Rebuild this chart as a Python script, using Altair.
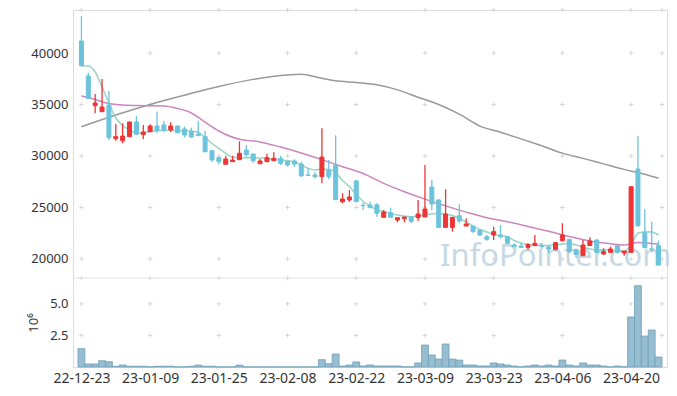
import altair as alt
import pandas as pd

dates = ["22-12-23", "22-12-26", "22-12-27", "22-12-28", "22-12-29",
         "23-01-02", "23-01-03", "23-01-04", "23-01-05", "23-01-06",
         "23-01-09", "23-01-10", "23-01-11", "23-01-12", "23-01-13",
         "23-01-16", "23-01-17", "23-01-18", "23-01-19", "23-01-20",
         "23-01-25", "23-01-26", "23-01-27", "23-01-30", "23-01-31",
         "23-02-01", "23-02-02", "23-02-03", "23-02-06", "23-02-07",
         "23-02-08", "23-02-09", "23-02-10", "23-02-13", "23-02-14",
         "23-02-15", "23-02-16", "23-02-17", "23-02-20", "23-02-21",
         "23-02-22", "23-02-23", "23-02-24", "23-02-27", "23-02-28",
         "23-03-02", "23-03-03", "23-03-06", "23-03-07", "23-03-08",
         "23-03-09", "23-03-10", "23-03-13", "23-03-14", "23-03-15",
         "23-03-16", "23-03-17", "23-03-20", "23-03-21", "23-03-22",
         "23-03-23", "23-03-24", "23-03-27", "23-03-28", "23-03-29",
         "23-03-30", "23-03-31", "23-04-03", "23-04-04", "23-04-05",
         "23-04-06", "23-04-07", "23-04-10", "23-04-11", "23-04-12",
         "23-04-13", "23-04-14", "23-04-17", "23-04-18", "23-04-19",
         "23-04-20", "23-04-21", "23-04-24", "23-04-25", "23-04-26"]

open_ = [41165, 37767, 34885, 34300, 34950, 31680, 31485, 31875, 33300, 32070,
         32360, 32910, 33010, 32525, 32910, 32620, 32360, 32110, 31875, 30515,
         29835, 29195, 29450, 29640, 30580, 30195, 29250, 29445, 29545, 29775,
         29445, 29515, 29220, 28160, 28160, 27990, 28610, 29125, 25560, 25730,
         27570, 25215, 25240, 25270, 24050, 24495, 23785, 23910, 24080, 24010,
         24080, 26990, 25730, 23075, 23075, 24210, 23200, 23200, 22815, 22165,
         22330, 22330, 22165, 21360, 21265, 21135, 21300, 21265, 21170, 20940,
         21780, 21910, 20940, 20320, 21300, 21845, 20485, 20645, 21300, 20580,
         20645, 28740, 22555, 20970, 21300]
high = [43590, 38090, 36020, 37475, 36310, 33110, 33175, 33350, 33880, 33010,
        33080, 34300, 33430, 33270, 32960, 32850, 32750, 33430, 32455, 30515,
        29930, 30000, 30030, 31425, 31070, 30195, 29710, 30225, 30360, 30000,
        29545, 29680, 29445, 28805, 28415, 32690, 29610, 32010, 26380, 26700,
        27670, 25470, 25560, 25410, 24755, 24980, 24010, 24080, 24080, 25730,
        29125, 27670, 25800, 26770, 24050, 25310, 23950, 23200, 22815, 22330,
        23135, 23300, 22230, 21525, 21525, 21525, 22330, 21555, 21360, 21650,
        23465, 21910, 20940, 21845, 22110, 21910, 21035, 21200, 21360, 20775,
        27050, 31940, 24855, 23620, 21780]
low = [38700, 35550, 34145, 34300, 31550, 31485, 31233, 31850, 32040, 31620,
       32300, 32260, 32330, 32330, 32210, 31815, 31780, 31950, 30360, 29445,
       29195, 29195, 29450, 29640, 29930, 29350, 29250, 29445, 29545, 29125,
       28960, 28960, 27990, 28060, 27835, 27350, 27740, 25760, 25410, 25560,
       25560, 24755, 24980, 24110, 24050, 24050, 23560, 23560, 23465, 23690,
       24080, 24755, 23000, 23075, 22650, 23465, 23200, 22555, 22230, 21775,
       21845, 22010, 21525, 21135, 21070, 20875, 21300, 20970, 20590, 20810,
       21680, 20550, 20130, 20320, 21300, 20550, 20390, 20645, 20550, 20320,
       20600, 23135, 21100, 20645, 19420]
close = [38767, 35600, 35145, 34757, 31777, 31875, 31940, 33300, 32110, 32330,
         32910, 32455, 32525, 32910, 32260, 32040, 31845, 31975, 30415, 29610,
         29445, 29710, 29610, 30260, 30125, 29545, 29515, 29835, 29775, 29290,
         29125, 29220, 28060, 28110, 27990, 29900, 27990, 25760, 25825, 26020,
         25560, 25180, 24980, 24440, 24560, 24050, 24010, 24080, 23655, 24370,
         24855, 25340, 23060, 24370, 24050, 23690, 23400, 22650, 22330, 21910,
         22650, 22165, 21525, 21200, 21135, 21395, 21525, 21230, 20970, 21585,
         22330, 20710, 20455, 21360, 21750, 20645, 20710, 20970, 20645, 20775,
         27020, 23230, 21100, 20940, 19420]
volume_m = [1.45, 0.24, 0.24, 0.50, 0.42, 0.05, 0.16, 0.06, 0.06, 0.06,
            0.01, 0.06, 0.06, 0.06, 0.01, 0.01, 0.06, 0.15, 0.06, 0.06,
            0.01, 0.01, 0.01, 0.15, 0.01, 0.01, 0.01, 0.01, 0.01, 0.01,
            0.01, 0.01, 0.01, 0.01, 0.01, 0.58, 0.26, 1.03, 0.08, 0.16,
            0.40, 0.08, 0.16, 0.08, 0.08, 0.08, 0.08, 0.01, 0.01, 0.32,
            1.74, 0.95, 0.63, 1.82, 0.63, 0.55, 0.16, 0.16, 0.08, 0.08,
            0.32, 0.24, 0.16, 0.08, 0.01, 0.08, 0.16, 0.08, 0.16, 0.08,
            0.55, 0.16, 0.08, 0.32, 0.16, 0.16, 0.08, 0.01, 0.08, 0.01,
            3.96, 6.44, 2.45, 2.93, 0.79]
ma5 = [38767, 38738, 38155, 36700, 35145, 33690, 32960, 32525, 32230, 32260,
       32380, 32455, 32495, 32495, 32475, 32450, 32430, 32300, 31795, 31215,
       30750, 30245, 29875, 29835, 29835, 29835, 29805, 29775, 29660, 29610,
       29560, 29415, 29125, 28805, 28640, 28740, 28690, 28400, 27620, 27040,
       26260, 25580, 25145, 24755, 24610, 24440, 24270, 24175, 24110, 24200,
       24270, 24400, 24420, 24340, 24225, 23930, 23590, 23200, 22865, 22620,
       22380, 22280, 22135, 21795, 21550, 21405, 21360, 21310, 21310, 21380,
       21455, 21505, 21360, 21165, 20970, 20875, 20875, 20875, 20775, 20730,
       21405, 22495, 22650, 22620, 22330]
ma20_idx = [0, 2, 4, 6, 9, 12, 14, 16, 18, 20, 23, 26, 29, 32, 35, 38, 41, 44,
            47, 50, 53, 56, 59, 62, 65, 68, 71, 74, 77, 79, 81, 84]
ma20 = [35825, 35490, 35090, 34945, 34885, 34860, 34610, 34175, 33280, 32430,
        31620, 31370, 30870, 30300, 29650, 28960, 28300, 27340, 26535, 25815,
        25160, 24550, 24000, 23625, 23155, 22690, 22180, 21740, 21475, 21365,
        21610, 21455]
ma60_idx = [0, 5, 10, 15, 20, 25, 30, 32, 34, 37, 40, 43, 46, 49, 52, 55, 58,
            61, 64, 67, 70, 73, 76, 79, 82, 84]
ma60 = [32845, 33980, 35000, 35900, 36750, 37440, 37870, 37930, 37690, 37300,
        37130, 36910, 36420, 35710, 34995, 34060, 32900, 32300, 31660, 30990,
        30280, 29770, 29235, 28700, 28230, 27835]

price_ticks = [20000, 25000, 30000, 35000, 40000]
vol_ticks = [2.5, 5.0]
label_idx = list(range(0, len(dates), 10))

n = len(dates)
df = pd.DataFrame({"i": list(range(n)), "date": dates, "open": open_, "high": high,
                   "low": low, "close": close, "vol": volume_m, "ma5": ma5})
df["dir"] = ["up" if c >= o else "down" for o, c in zip(open_, close)]
df20 = pd.DataFrame({"i": ma20_idx, "v": ma20})
df60 = pd.DataFrame({"i": ma60_idx, "v": ma60})

PRICE_DOM = [18349, 44175]
VOL_DOM = [0, 7.05]
X_DOM = [-0.5, n - 0.5]
FONT = "Noto Sans"
RED, BLUE = "#ec3535", "#6cc3dc"

lbl = "[" + ",".join("'%s'" % dates[k] for k in range(n)) + "]"
x_axis = alt.Axis(values=label_idx, labelExpr=lbl + "[round(datum.value)]",
                  ticks=False, domain=False, grid=False, title=None,
                  labelFont=FONT, labelFontSize=14, labelColor="#333",
                  labelPadding=4)
xs = alt.Scale(domain=X_DOM, nice=False, zero=False)
py_scale = alt.Scale(domain=PRICE_DOM, range=[266, 0], nice=False, zero=False)
vy_scale = alt.Scale(domain=VOL_DOM, range=[357, 268], nice=False, zero=False)
p_axis = alt.Axis(values=price_ticks, format="d", ticks=False, domain=False, grid=False,
                  orient="left", title=None, labelFont=FONT, labelFontSize=13,
                  labelColor="#333", labelPadding=5)
v_axis = alt.Axis(values=vol_ticks, format=".1f", ticks=False, domain=False, grid=False,
                  orient="left", title="10⁶", titleFont=FONT, titleFontSize=13,
                  titleFontWeight="normal", titleColor="#333", titlePadding=9,
                  labelFont=FONT, labelFontSize=13, labelColor="#333", labelPadding=5)
color = alt.Color("dir:N", scale=alt.Scale(domain=["up", "down"], range=[RED, BLUE]), legend=None)

X = alt.X("i:Q", scale=xs, axis=x_axis)

# grid crosses
cx = label_idx + [X_DOM[1]]
pc = pd.DataFrame([(a, b) for a in cx for b in price_ticks + [PRICE_DOM[1]]], columns=["i", "y"])
vc = pd.DataFrame([(a, b) for a in cx for b in vol_ticks + [VOL_DOM[1]]], columns=["i", "y"])
cross = dict(shape="M-1,0L1,0M0,-1L0,1", filled=False, size=20, stroke="#d6d6d6", strokeWidth=1, opacity=1)

wm = alt.Chart(pd.DataFrame({"t": ["InfoPointer.com"]})).mark_text(
    font=FONT, fontSize=31, color="#bdd3df", opacity=0.85, align="left", baseline="alphabetic"
).encode(text="t:N", x=alt.value(367), y=alt.value(256))

p_cross = alt.Chart(pc).mark_point(**cross).encode(x=X, y=alt.Y("y:Q", scale=py_scale, axis=p_axis))
l60 = alt.Chart(df60).mark_line(interpolate="monotone", color="#999999", strokeWidth=1.5).encode(
    x=X, y=alt.Y("v:Q", scale=py_scale, axis=p_axis))
l20 = alt.Chart(df20).mark_line(interpolate="monotone", color="#cc86bf", strokeWidth=1.5).encode(
    x=X, y=alt.Y("v:Q", scale=py_scale, axis=p_axis))
l5 = alt.Chart(df).mark_line(interpolate="monotone", color="#8ccfc0", strokeWidth=1.5, opacity=0.9).encode(
    x=X, y=alt.Y("ma5:Q", scale=py_scale, axis=p_axis))
wick = alt.Chart(df).mark_rule(strokeWidth=1.3).encode(
    x=X, y=alt.Y("low:Q", scale=py_scale, axis=p_axis), y2="high:Q", color=color)
body = alt.Chart(df).mark_bar(size=4, strokeWidth=1).encode(
    x=X, y=alt.Y("open:Q", scale=py_scale, axis=p_axis), y2="close:Q", color=color, stroke=color)
price = alt.layer(p_cross, l60, l20, l5, wick, body)

vbar = alt.Chart(df).transform_calculate(
    x0="datum.i - 0.5", x1="datum.i + 0.5", y0="0"
).mark_bar(color="#97bdd0", stroke="#6e9fb8", strokeWidth=0.8, orient="vertical").encode(
    x=alt.X("x0:Q", scale=xs, axis=x_axis), x2="x1:Q",
    y=alt.Y("vol:Q", scale=vy_scale, axis=v_axis), y2="y0:Q")
v_cross = alt.Chart(vc).mark_point(**cross).encode(
    x=X, y=alt.Y("y:Q", scale=vy_scale, axis=v_axis))
sep = alt.Chart(pd.DataFrame({"y": [VOL_DOM[1]]})).mark_rule(color="#e3e3e3", strokeWidth=1).encode(
    y=alt.Y("y:Q", scale=vy_scale, axis=v_axis))
vol = alt.layer(v_cross, sep, vbar)

chart = alt.layer(wm, price, vol).resolve_scale(y="independent").properties(
    width=594, height=357,
    autosize=alt.AutoSizeParams(type="none"),
    padding={"left": 65, "top": 2, "right": 2, "bottom": 21},
).configure_view(stroke="#e3e3e3").configure(background="white")

chart.save("out.html", embed_options={"renderer": "svg", "actions": False})
